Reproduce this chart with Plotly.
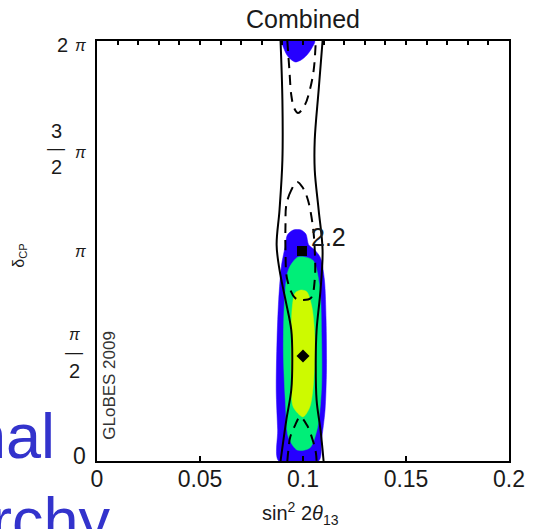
import plotly.graph_objects as go

# ---- data (x = sin^2 2theta13, y = deltaCP in units of pi) ----
blue_low_x = [0.0882, 0.0877, 0.0870, 0.0874, 0.0882, 0.0896, 0.0915, 0.0924, 0.0953, 0.0991,
              0.1014, 0.1028, 0.1057, 0.1085, 0.1104, 0.1112, 0.1114, 0.1107, 0.1090, 0.1076]
blue_low_y = [0.0, 0.148, 0.338, 0.576, 0.767, 0.933, 1.029, 1.076, 1.100, 1.100,
              1.081, 1.029, 1.005, 0.967, 0.862, 0.671, 0.433, 0.243, 0.100, 0.0]
blue_top_x = [0.0900, 0.0910, 0.0929, 0.0962, 0.0991, 0.1019, 0.1043, 0.1057]
blue_top_y = [2.0, 1.957, 1.924, 1.900, 1.910, 1.933, 1.967, 2.0]

green_x = [0.0976, 0.1047, 0.1081, 0.1090, 0.1090, 0.1071, 0.1033, 0.0972, 0.0929, 0.0915,
           0.0905, 0.0910, 0.0929]
green_y = [0.971, 0.957, 0.829, 0.590, 0.352, 0.162, 0.062, 0.052, 0.114, 0.276,
           0.514, 0.752, 0.910]

yellow_x = [0.0991, 0.1019, 0.1043, 0.1057, 0.1052, 0.1033, 0.1000, 0.0953, 0.0943, 0.0943,
            0.0948, 0.0962]
yellow_y = [0.814, 0.805, 0.733, 0.590, 0.386, 0.257, 0.210, 0.257, 0.386, 0.590,
            0.733, 0.800]

solid_left_x = [0.0891, 0.0900, 0.0900, 0.0886, 0.0872, 0.0886, 0.0915, 0.0943, 0.0948, 0.0943, 0.0919, 0.0891]
solid_left_y = [2.0, 1.719, 1.433, 1.195, 1.029, 0.910, 0.767, 0.624, 0.481, 0.338, 0.195, 0.0]
solid_right_x = [0.1095, 0.1076, 0.1057, 0.1057, 0.1076, 0.1095, 0.1085, 0.1066, 0.1062, 0.1066, 0.1085, 0.1100]
solid_right_y = [2.0, 1.767, 1.529, 1.386, 1.195, 1.005, 0.814, 0.624, 0.481, 0.290, 0.148, 0.0]

dash_top_x = [0.0924, 0.0934, 0.0943, 0.0957, 0.0976, 0.1009, 0.1033, 0.1052, 0.1062]
dash_top_y = [2.0, 1.862, 1.743, 1.681, 1.657, 1.695, 1.767, 1.862, 2.0]
dash_bot_x = [0.0924, 0.0929, 0.0938, 0.0962, 0.0986, 0.1019, 0.1047, 0.1062, 0.1066]
dash_bot_y = [0.0, 0.052, 0.114, 0.171, 0.210, 0.171, 0.100, 0.043, 0.0]
dash_mid_x = [0.0972, 0.0943, 0.0919, 0.0915, 0.0915, 0.0924, 0.0962, 0.1000, 0.1038, 0.1057,
              0.1057, 0.1047, 0.1024, 0.1000, 0.0972]
dash_mid_y = [1.329, 1.290, 1.219, 1.124, 1.005, 0.862, 0.776, 0.767, 0.776, 0.862,
              1.005, 1.124, 1.243, 1.300, 1.329]

best_fit = (0.1000, 0.5)
square_pt = (0.0995, 1.0)
square_label = "2.2"
label_pos = (0.1122, 1.067)

x_ticks = [0, 0.05, 0.1, 0.15, 0.2]
x_ticklabels = ["0", "0.05", "0.1", "0.15", "0.2"]
x_minor = [i / 100 for i in range(0, 21)]

BLUE = "rgb(38,0,255)"
GREEN = "rgb(0,238,120)"
YELLOW = "rgb(205,250,0)"
FONT = "Liberation Sans, Arial, sans-serif"
TXT = "#1a1a1a"

fig = go.Figure()


def fill(x, y, color):
    fig.add_trace(go.Scatter(x=x + x[:1], y=y + y[:1], mode="lines", fill="toself",
                             fillcolor=color, line=dict(color=color, width=0.5, shape="spline", smoothing=0.8),
                             hoverinfo="skip", showlegend=False))


fill(blue_low_x, blue_low_y, BLUE)
fill(blue_top_x, blue_top_y, BLUE)
fill(green_x, green_y, GREEN)
fill(yellow_x, yellow_y, YELLOW)


def line(x, y, dash):
    fig.add_trace(go.Scatter(x=x, y=y, mode="lines",
                             line=dict(color="black", width=2, dash=dash, shape="spline", smoothing=1.0),
                             hoverinfo="skip", showlegend=False))


line(solid_left_x, solid_left_y, "solid")
line(solid_right_x, solid_right_y, "solid")
line(dash_top_x, dash_top_y, "10px,7px")
line(dash_bot_x, dash_bot_y, "10px,7px")
line(dash_mid_x, dash_mid_y, "10px,7px")

fig.add_trace(go.Scatter(x=[best_fit[0]], y=[best_fit[1]], mode="markers",
                         marker=dict(symbol="diamond", size=10, color="black"), showlegend=False))
fig.add_trace(go.Scatter(x=[square_pt[0]], y=[square_pt[1]], mode="markers",
                         marker=dict(symbol="square", size=10, color="black"), showlegend=False))
# dummy trace for the top axis
fig.add_trace(go.Scatter(x=[0, 0.2], y=[None, None], xaxis="x2", yaxis="y", mode="markers",
                         showlegend=False, hoverinfo="skip"))

ann = []
ann.append(dict(x=label_pos[0], y=label_pos[1], xref="x", yref="y", text=square_label, showarrow=False,
                xanchor="center", yanchor="middle", font=dict(family=FONT, size=25, color=TXT)))


def ylab(text, yv, xs, ys, size, italic=False):
    t = f"<i>{text}</i>" if italic else text
    ann.append(dict(x=0, y=yv, xref="paper", yref="y", text=t, showarrow=False, xanchor="center",
                    yanchor="middle", xshift=xs, yshift=ys, font=dict(family=FONT, size=size, color=TXT)))


# y tick labels: 2pi, 3/2 pi, pi, pi/2, 0
ylab("2", 2.0, -35, -4, 20)
ylab("π", 2.0, -17, -4, 16, True)
ylab("3", 1.5, -41, 15, 20)
ylab("—", 1.5, -41, -2, 18)
ylab("2", 1.5, -41, -21, 20)
ylab("π", 1.5, -17, -6, 16, True)
ylab("π", 1.0, -17, 0, 16, True)
ylab("π", 0.5, -23, 22, 16, True)
ylab("—", 0.5, -23, 4, 18)
ylab("2", 0.5, -23, -15, 20)
ylab("0", 0.0, -18, 5, 23)

ann.append(dict(x=-0.19, y=0.976, xref="paper", yref="y", text="δ<sub>CP</sub>", textangle=-90,
                xanchor="center", yanchor="middle",
                showarrow=False, font=dict(family=FONT, size=16, color=TXT)))
ann.append(dict(x=0.031, y=0.362, xref="paper", yref="y", text="GLoBES 2009", textangle=-90,
                xanchor="center", yanchor="middle",
                showarrow=False, font=dict(family=FONT, size=17, color="#333333")))
ann.append(dict(x=0.493, y=-0.124, xref="paper", yref="paper",
                text="sin<sup>2</sup> 2<i>θ</i><sub>13</sub>", showarrow=False,
                xanchor="center", yanchor="middle",
                font=dict(family=FONT, size=20, color=TXT)))
ann.append(dict(x=0.5, y=1.0, xref="paper", yref="paper", text="Combined", showarrow=False,
                xanchor="center", yanchor="bottom", yshift=6, font=dict(family=FONT, size=25, color=TXT)))
# background slide text fragments
ann.append(dict(x=-0.0972, y=0.0595, xref="paper", yref="paper", text="nal", showarrow=False,
                xanchor="right", yanchor="middle",
                font=dict(family="Liberation Sans", size=63, color="rgb(51,51,204)")))
ann.append(dict(x=0.0379, y=-0.1405, xref="paper", yref="paper", text="rchy", showarrow=False,
                xanchor="right", yanchor="middle",
                font=dict(family="Liberation Sans", size=63, color="rgb(51,51,204)")))

fig.update_layout(
    width=537, height=529,
    margin=dict(l=97, r=18, t=41, b=68),
    paper_bgcolor="white", plot_bgcolor="white",
    showlegend=False,
    annotations=ann,
    xaxis=dict(range=[0, 0.2], tickvals=x_ticks, ticktext=x_ticklabels, ticks="inside", ticklen=5,
               tickwidth=1.5, tickcolor="black", showline=True, linecolor="black", linewidth=2,
               mirror=True, showgrid=False, zeroline=False, ticklabelstandoff=-4,
               tickfont=dict(family=FONT, size=23, color=TXT)),
    xaxis2=dict(range=[0, 0.2], overlaying="x", side="top", tickvals=x_minor, ticks="inside",
                ticklen=4, tickwidth=1.5, tickcolor="black", showticklabels=False, showline=False,
                showgrid=False, zeroline=False),
    yaxis=dict(range=[0, 2], showticklabels=False, ticks="", showline=True, linecolor="black",
               linewidth=2, mirror=True, showgrid=False, zeroline=False),
)

fig.write_html("out.html")
